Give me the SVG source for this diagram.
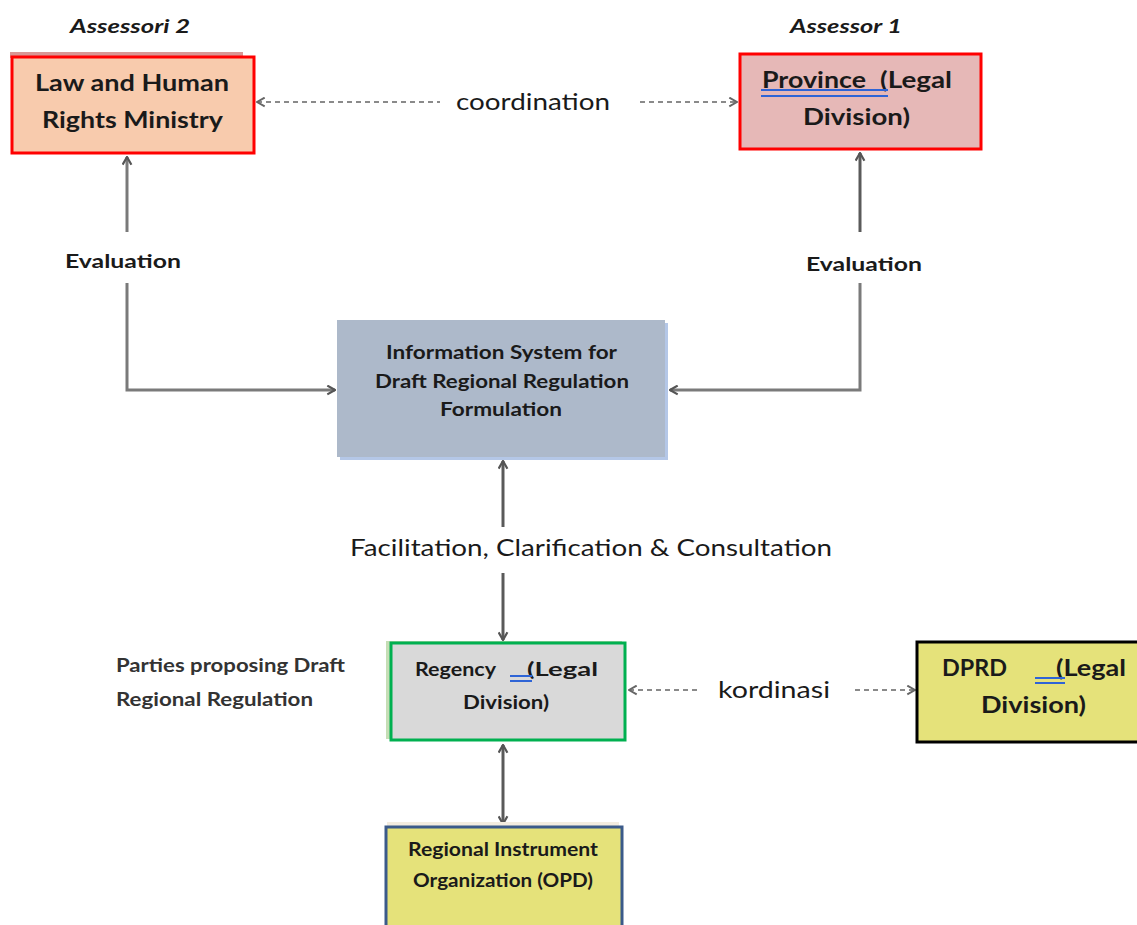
<svg xmlns="http://www.w3.org/2000/svg" width="1137" height="925" viewBox="0 0 1137 925">
<style>
text{font-family:Lato,"Liberation Sans",sans-serif;fill:#1a1a1a;font-weight:bold}
.big{font-size:23px}
.mid{font-size:18px}
.lab{font-size:23px;font-weight:normal}
.conn{stroke:#7a7a7a;stroke-width:3;fill:none}
.dash{stroke:#8a8a8a;stroke-width:2;fill:none;stroke-dasharray:5 4}
.ul{stroke:#2e64d6;stroke-width:2}
</style>
<defs>
<marker id="ah" viewBox="0 0 10 10" refX="9" refY="5" markerWidth="11" markerHeight="11" orient="auto-start-reverse" markerUnits="userSpaceOnUse">
<path d="M2,1 L9,5 L2,9" fill="none" stroke="#555" stroke-width="2"/>
</marker>
<marker id="ahd" viewBox="0 0 10 10" refX="9" refY="5" markerWidth="11" markerHeight="11" orient="auto-start-reverse" markerUnits="userSpaceOnUse">
<path d="M2,1 L9,5 L2,9" fill="none" stroke="#666" stroke-width="1.8"/>
</marker>
</defs>
<rect width="1137" height="925" fill="#fff"/>

<g id="connectors">
<line class="dash" x1="257" y1="102" x2="440" y2="102" marker-start="url(#ahd)"/>
<line class="dash" x1="640" y1="102" x2="737" y2="102" marker-end="url(#ahd)"/>
<text class="lab" x="456" y="110" textLength="154" lengthAdjust="spacingAndGlyphs">coordination</text>

<line class="conn" x1="127" y1="232" x2="127" y2="157" marker-end="url(#ah)"/>
<polyline class="conn" points="127,283 127,390 335,390" marker-end="url(#ah)"/>
<text class="mid" x="65" y="268" textLength="116" lengthAdjust="spacingAndGlyphs">Evaluation</text>

<line class="conn" x1="860" y1="232" x2="860" y2="153" marker-end="url(#ah)" style="stroke:#5a5a5a"/>
<polyline class="conn" points="860,283 860,390 670,390" marker-end="url(#ah)"/>
<text class="mid" x="806" y="271" textLength="116" lengthAdjust="spacingAndGlyphs">Evaluation</text>

<line class="conn" x1="503" y1="527" x2="503" y2="461" marker-end="url(#ah)" style="stroke:#5a5a5a"/>
<line class="conn" x1="503" y1="573" x2="503" y2="640" marker-end="url(#ah)" style="stroke:#5a5a5a"/>
<text class="lab" x="350" y="556" textLength="482" lengthAdjust="spacingAndGlyphs">Facilitation, Clarification &amp; Consultation</text>

<line class="dash" x1="629" y1="690" x2="700" y2="690" marker-start="url(#ahd)"/>
<line class="dash" x1="855" y1="690" x2="915" y2="690" marker-end="url(#ahd)"/>
<text class="lab" x="718" y="698" textLength="112" lengthAdjust="spacingAndGlyphs">kordinasi</text>

<line class="conn" x1="503" y1="745" x2="503" y2="824" marker-start="url(#ah)" marker-end="url(#ah)" style="stroke:#5a5a5a"/>
</g>

<g id="assessor2">
<text x="70" y="33" textLength="120" lengthAdjust="spacingAndGlyphs" style="font-size:19px;font-style:italic">Assessori 2</text>
</g>
<g id="assessor1">
<text x="790" y="33" textLength="112" lengthAdjust="spacingAndGlyphs" style="font-size:19px;font-style:italic">Assessor 1</text>
</g>

<g id="law-ministry">
<rect x="10" y="52" width="233" height="6" fill="#d99694"/>
<rect x="12" y="57" width="242" height="96" fill="#f8cbad" stroke="#ff0000" stroke-width="3"/>
<text class="big" x="35" y="91" textLength="194" lengthAdjust="spacingAndGlyphs">Law and Human</text>
<text class="big" x="42" y="128" textLength="181" lengthAdjust="spacingAndGlyphs">Rights Ministry</text>
</g>

<g id="province">
<rect x="740" y="54" width="241" height="95" fill="#e6b8b7" stroke="#ff0000" stroke-width="3"/>
<text class="big" x="762" y="88" textLength="104" lengthAdjust="spacingAndGlyphs">Province</text>
<text class="big" x="880" y="88" textLength="72" lengthAdjust="spacingAndGlyphs">(Legal</text>
<line class="ul" x1="761" y1="90" x2="888" y2="90"/>
<line class="ul" x1="761" y1="96" x2="888" y2="96"/>
<text class="big" x="803" y="125" textLength="107" lengthAdjust="spacingAndGlyphs">Division)</text>
</g>

<g id="info-system">
<rect x="340" y="323" width="328" height="137" fill="#b4c7e7"/>
<rect x="337" y="320" width="328" height="137" fill="#adb9ca"/>
<text class="mid" x="386" y="359" textLength="231" lengthAdjust="spacingAndGlyphs">Information System for</text>
<text class="mid" x="375" y="388" textLength="254" lengthAdjust="spacingAndGlyphs">Draft Regional Regulation</text>
<text class="mid" x="440" y="416" textLength="122" lengthAdjust="spacingAndGlyphs">Formulation</text>
</g>

<g id="parties-label">
<text class="mid" x="116" y="672" textLength="229" lengthAdjust="spacingAndGlyphs" style="fill:#333">Parties proposing Draft</text>
<text class="mid" x="116" y="706" textLength="197" lengthAdjust="spacingAndGlyphs" style="fill:#333">Regional Regulation</text>
</g>

<g id="regency">
<rect x="386" y="641" width="236" height="98" fill="#c5deb5"/>
<rect x="391" y="643" width="234" height="97" fill="#d9d9d9" stroke="#00b050" stroke-width="3"/>
<text class="mid" x="415" y="676" textLength="81" lengthAdjust="spacingAndGlyphs">Regency</text>
<text class="mid" x="527" y="676" textLength="71" lengthAdjust="spacingAndGlyphs">(Legal</text>
<line class="ul" x1="510" y1="676" x2="532" y2="676"/>
<line class="ul" x1="510" y1="681" x2="532" y2="681"/>
<text class="mid" x="463" y="709" textLength="86" lengthAdjust="spacingAndGlyphs">Division)</text>
</g>

<g id="dprd">
<rect x="917" y="642" width="222" height="100" fill="#e5e27a" stroke="#000" stroke-width="3"/>
<text class="big" x="942" y="676" textLength="65" lengthAdjust="spacingAndGlyphs">DPRD</text>
<text class="big" x="1056" y="676" textLength="70" lengthAdjust="spacingAndGlyphs">(Legal</text>
<line class="ul" x1="1035" y1="678" x2="1065" y2="678"/>
<line class="ul" x1="1035" y1="683" x2="1065" y2="683"/>
<text class="big" x="981" y="713" textLength="105" lengthAdjust="spacingAndGlyphs">Division)</text>
</g>

<g id="opd">
<rect x="387" y="822" width="232" height="5" fill="#f3ecdf"/>
<rect x="386" y="827" width="236" height="110" fill="#e5e27a" stroke="#3b5a8a" stroke-width="3"/>
<text class="mid" x="408" y="856" textLength="190" lengthAdjust="spacingAndGlyphs">Regional Instrument</text>
<text class="mid" x="413" y="887" textLength="180" lengthAdjust="spacingAndGlyphs">Organization (OPD)</text>
</g>
</svg>
